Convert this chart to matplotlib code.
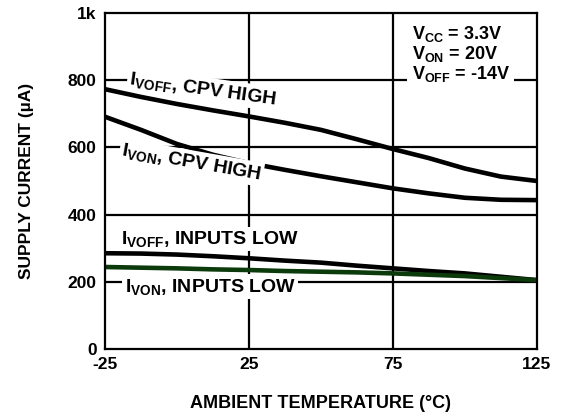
import matplotlib

matplotlib.use("Agg")
import matplotlib.pyplot as plt

plt.rcParams["font.family"] = ["Liberation Sans", "DejaVu Sans"]
plt.rcParams["font.weight"] = "bold"
plt.rcParams["axes.labelweight"] = "bold"
plt.rcParams["axes.unicode_minus"] = False
plt.rcParams["mathtext.fontset"] = "custom"
plt.rcParams["mathtext.rm"] = "Liberation Sans:bold"
plt.rcParams["mathtext.it"] = "Liberation Sans:bold"
plt.rcParams["mathtext.bf"] = "Liberation Sans:bold"

# temperature points (degC)
temps = [-25, -12.5, 0, 12.5, 25, 37.5, 50, 62.5, 75, 87.5, 100, 112.5, 125]

# supply currents (uA)
ivoff_cpv_high = [773, 750, 729, 710, 692, 673, 652, 624, 595, 568, 537, 513, 500]
ivon_cpv_high = [691, 652, 610, 578, 553, 533, 514, 496, 478, 463, 450, 444, 443]
ivoff_inputs_low = [285, 284, 281, 276, 270, 263, 257, 248, 240, 232, 225, 215, 205]
ivon_inputs_low = [244, 242, 240, 237, 235, 232, 230, 228, 225, 221, 217, 211, 205]

x_ticks = [-25, 25, 75, 125]
y_ticks = [0, 200, 400, 600, 800, 1000]
y_tick_labels = ["0", "200", "400", "600", "800", "1k"]

fig = plt.figure(figsize=(5.63, 4.16), dpi=100)
ax = fig.add_axes([0.1865, 0.161, 0.767, 0.808])

ax.set_xlim(-25, 125)
ax.set_ylim(0, 1000)
ax.set_xticks(x_ticks)
ax.set_yticks(y_ticks)
ax.set_yticklabels(y_tick_labels)
ax.tick_params(length=0, labelsize=12.5, pad=6)

for y in [200, 400, 600, 800]:
    ax.axhline(y, color="black", lw=1.6, zorder=1)
for x in [25, 75]:
    ax.axvline(x, color="black", lw=1.6, zorder=1)
for s in ax.spines.values():
    s.set_linewidth(1.6)
    s.set_zorder(5)

ax.plot(temps, ivoff_cpv_high, color="black", lw=3.3, zorder=3)
ax.plot(temps, ivon_cpv_high, color="black", lw=3.3, zorder=3)
ax.plot(temps, ivoff_inputs_low, color="black", lw=3.3, zorder=3)
ax.plot(temps, ivon_inputs_low, color="#0b3a0b", lw=3.3, zorder=3)

box = dict(facecolor="white", edgecolor="none", pad=1.5)
ax.text(9, 773, r"$\mathregular{I_{VOFF}}$, CPV HIGH", rotation=-8, fontsize=14,
        ha="center", va="center", bbox=box, zorder=4, rotation_mode="anchor")
ax.text(5, 555, r"$\mathregular{I_{VON}}$, CPV HIGH", rotation=-10, fontsize=14,
        ha="center", va="center", bbox=box, zorder=4, rotation_mode="anchor")
ax.text(11.5, 328, r"$\mathregular{I_{VOFF}}$, INPUTS LOW", fontsize=14,
        ha="center", va="center", bbox=box, zorder=4)
ax.text(11.5, 186, r"$\mathregular{I_{VON}}$, INPUTS LOW", fontsize=14,
        ha="center", va="center", bbox=box, zorder=4)

ax.text(81.5, 968,
        "$\\mathregular{V_{CC}}$ = 3.3V\n$\\mathregular{V_{ON}}$ = 20V\n$\\mathregular{V_{OFF}}$ = -14V",
        fontsize=13, ha="left", va="top", linespacing=1.0,
        bbox=dict(facecolor="white", edgecolor="none", pad=3), zorder=4)

ax.set_xlabel("AMBIENT TEMPERATURE (°C)", fontsize=13, labelpad=16)
ax.set_ylabel("SUPPLY CURRENT (µA)", fontsize=12.5, labelpad=24)

fig.savefig("out.png", dpi=100)
